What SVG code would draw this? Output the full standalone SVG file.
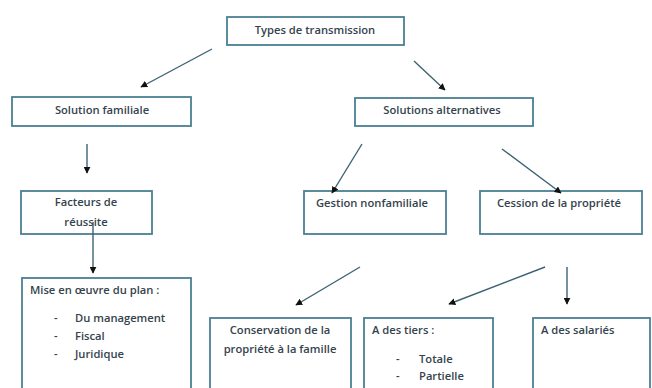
<svg xmlns="http://www.w3.org/2000/svg" width="652" height="388" viewBox="0 0 652 388">
<defs>
<style>
.box{fill:#fff;stroke:#4a7f92;stroke-width:1.8}
.t{font-family:"Open Sans","Liberation Sans",sans-serif;font-size:11.2px;font-weight:600;fill:#34434d}
.c{text-anchor:middle}
.ln{stroke:#3d6274;stroke-width:1.4;fill:none;marker-end:url(#ah)}
</style>
<marker id="ah" viewBox="0 0 10 10" refX="9" refY="5" markerWidth="7" markerHeight="7" markerUnits="userSpaceOnUse" orient="auto">
<path d="M0,0 L10,5 L0,10 z" fill="#111"/>
</marker>
</defs>
<rect width="652" height="388" fill="#fff"/>
<g id="n-types"><rect class="box" x="227" y="17" width="177" height="28"/><text class="t c" x="315" y="34">Types de transmission</text></g>
<g id="n-familiale"><rect class="box" x="12" y="97" width="179" height="29"/><text class="t c" x="102" y="114">Solution familiale</text></g>
<g id="n-alternatives"><rect class="box" x="355" y="98" width="178" height="28"/><text class="t c" x="442" y="114">Solutions alternatives</text></g>
<g id="n-facteurs"><rect class="box" x="21" y="191" width="131" height="43"/><text class="t c" x="86" y="206">Facteurs de</text><text class="t c" x="86" y="226">réussite</text></g>
<g id="n-gestion"><rect class="box" x="304" y="191" width="142" height="43"/><text class="t c" x="372" y="207">Gestion nonfamiliale</text></g>
<g id="n-cession"><rect class="box" x="480" y="191" width="162" height="43"/><text class="t c" x="559" y="207">Cession de la propriété</text></g>
<g id="n-mise"><rect class="box" x="22" y="278" width="169" height="120"/><text class="t" x="30" y="294">Mise en œuvre du plan :</text>
<text class="t" x="54" y="322">-</text><text class="t" x="75" y="322">Du management</text>
<text class="t" x="54" y="340">-</text><text class="t" x="75" y="340">Fiscal</text>
<text class="t" x="54" y="358">-</text><text class="t" x="75" y="358">Juridique</text></g>
<g id="n-conservation"><rect class="box" x="210" y="318" width="141" height="80"/><text class="t c" x="280" y="334">Conservation de la</text><text class="t c" x="280" y="353">propriété à la famille</text></g>
<g id="n-tiers"><rect class="box" x="364" y="318" width="129" height="80"/><text class="t" x="372" y="334">A des tiers :</text>
<text class="t" x="396" y="363">-</text><text class="t" x="419" y="363">Totale</text>
<text class="t" x="396" y="380">-</text><text class="t" x="419" y="380">Partielle</text></g>
<g id="n-salaries"><rect class="box" x="533" y="318" width="117" height="80"/><text class="t" x="541" y="334">A des salariés</text></g>
<g id="connectors">
<line class="ln" x1="212" y1="49" x2="141" y2="87"/>
<line class="ln" x1="414" y1="61" x2="445" y2="90"/>
<line class="ln" x1="87" y1="144" x2="87" y2="173"/>
<line class="ln" x1="362" y1="144" x2="332" y2="193"/>
<line class="ln" x1="502" y1="149" x2="561" y2="193"/>
<line class="ln" x1="93" y1="222" x2="93" y2="273"/>
<line class="ln" x1="360" y1="267" x2="296" y2="305"/>
<line class="ln" x1="545" y1="267" x2="449" y2="304"/>
<line class="ln" x1="567" y1="267" x2="567" y2="304"/>
</g>
</svg>
